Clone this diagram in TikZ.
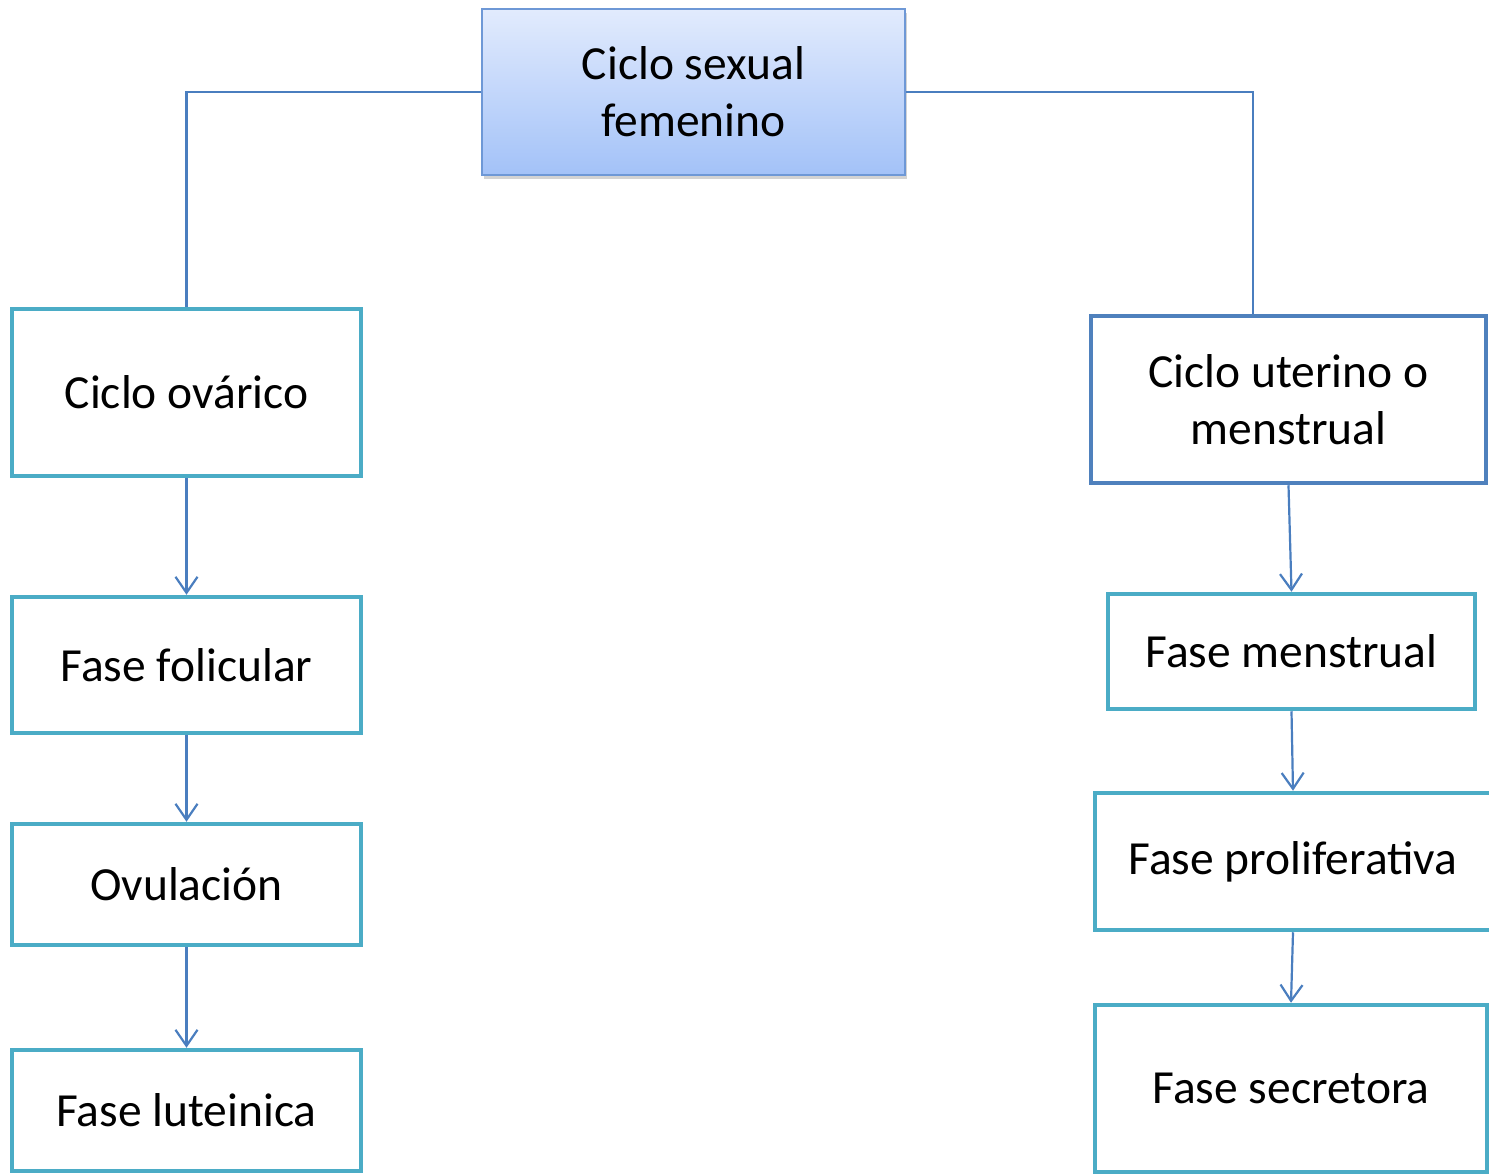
\documentclass[tikz,border=0pt]{standalone}
\usepackage{fontspec}
\setmainfont{Carlito}
\usetikzlibrary{arrows.meta,shadows}
\definecolor{teal}{HTML}{4BACC6}
\definecolor{dblue}{HTML}{4F81BD}
\definecolor{conn}{HTML}{4A7EBF}
\definecolor{gtop}{HTML}{E2EBFD}
\definecolor{gbot}{HTML}{A3C2F8}
\definecolor{topb}{HTML}{6E98D6}
\begin{document}
\begin{tikzpicture}[x=1pt,y=1pt,
  base/.style={rectangle,align=center,font=\fontsize{47.5}{57}\selectfont,inner sep=0pt},
  tbox/.style={base,draw=teal,line width=4.5pt,fill=white},
  bbox/.style={base,draw=dblue,line width=4.5pt,fill=white},
  topbox/.style={base,draw=topb,line width=2pt,top color=gtop,bottom color=gbot,
    drop shadow={shadow xshift=2pt,shadow yshift=-4pt,opacity=0.35}},
  conn/.style={draw=conn,line width=2.2pt},
  arr/.style={conn,-{Straight Barb[length=16pt,width=22pt,line width=2.2pt]}}]
\useasboundingbox (0,0) rectangle (1489,-1175);
\begin{scope}
\clip (0,0) rectangle (1489,-1175);
% top
\node[topbox,minimum width=423,minimum height=166] (top) at (693.5,-92) {Ciclo sexual\\femenino};
% left column
\node[tbox,minimum width=349,minimum height=167] (ov) at (186.5,-392.5) {Ciclo ovárico};
\node[tbox,minimum width=349,minimum height=136] (fol) at (186.5,-665) {Fase folicular};
\node[tbox,minimum width=349,minimum height=121] (ovu) at (186.5,-884.5) {Ovulación};
\node[tbox,minimum width=349,minimum height=121] (lut) at (186.5,-1110.5) {Fase luteinica};
% right column
\node[bbox,minimum width=395,minimum height=167] (ut) at (1288.5,-399.5) {Ciclo uterino o\\menstrual};
\node[tbox,minimum width=367,minimum height=115] (fm) at (1291.5,-651.5) {Fase menstrual};
\node[tbox,minimum width=400,minimum height=137] (fp) at (1295,-861.5) {\hspace*{-4pt}Fase proliferativa};
\node[tbox,minimum width=392,minimum height=167] (fs) at (1291,-1088.5) {Fase secretora};
% connectors
\draw[conn] (top.west) -| (ov.north);
\coordinate (utin) at ([xshift=-35.5pt]ut.north);
\draw[conn] (top.east) -| (utin);
\draw[arr] (ov.south) -- (fol.north);
\draw[arr] (fol.south) -- (ovu.north);
\draw[arr] (ovu.south) -- (lut.north);
\draw[arr] (ut.south) -- (fm.north);
\coordinate (fpin) at ([xshift=-2pt]fp.north);
\coordinate (fpout) at ([xshift=-2pt]fp.south);
\draw[arr] (fm.south) -- (fpin);
\draw[arr] (fpout) -- (fs.north);
\end{scope}
\end{tikzpicture}
\end{document}
